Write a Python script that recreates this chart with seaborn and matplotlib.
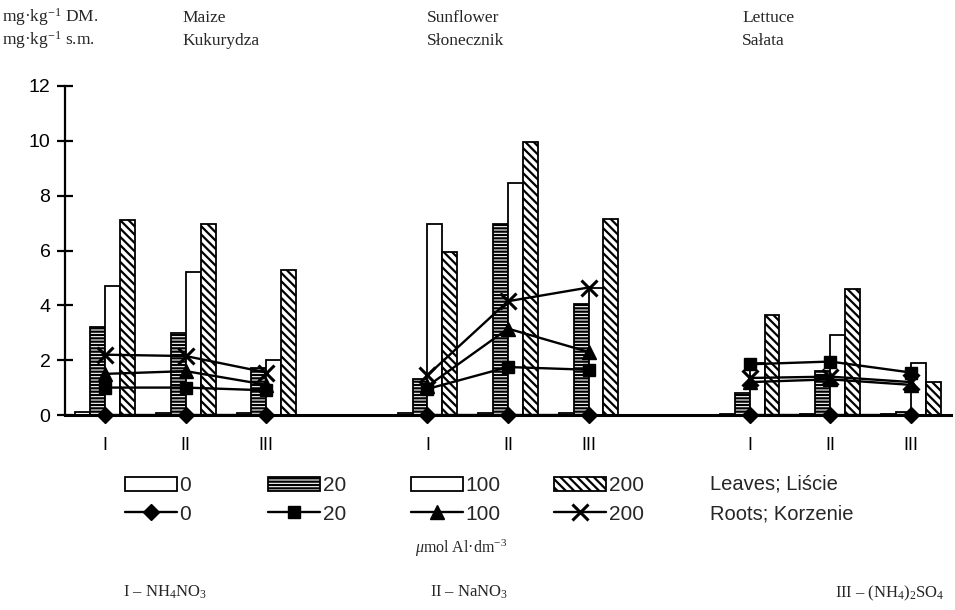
import numpy as np
import pandas as pd
import matplotlib
matplotlib.use("Agg")
import matplotlib.pyplot as plt
import seaborn as sns
from matplotlib.patches import Patch
from matplotlib.lines import Line2D

# ---------------- data ----------------
plants = ["Maize", "Sunflower", "Lettuce"]
plant_names = ["Maize\nKukurydza", "Sunflower\nSłonecznik", "Lettuce\nSałata"]
treatments = ["I", "II", "III"]
levels = ["0", "20", "100", "200"]

# order: Maize I, II, III; Sunflower I, II, III; Lettuce I, II, III
leaf_0 = [0.10, 0.06, 0.06, 0.06, 0.06, 0.06, 0.05, 0.05, 0.05]
leaf_20 = [3.20, 3.00, 1.70, 1.30, 6.95, 4.05, 0.80, 1.60, 0.10]
leaf_100 = [4.70, 5.20, 2.00, 6.95, 8.45, 4.65, 1.90, 2.90, 1.90]
leaf_200 = [7.10, 6.95, 5.30, 5.95, 9.95, 7.15, 3.65, 4.60, 1.20]

root_0 = [0.00, 0.00, 0.00, 0.00, 0.00, 0.00, 0.00, 0.00, 0.00]
root_20 = [1.00, 1.00, 0.90, 0.95, 1.75, 1.65, 1.85, 1.95, 1.55]
root_100 = [1.50, 1.60, 1.10, 1.05, 3.15, 2.30, 1.20, 1.30, 1.10]
root_200 = [2.20, 2.15, 1.55, 1.45, 4.15, 4.65, 1.35, 1.40, 1.20]

leaf_series = {"0": leaf_0, "20": leaf_20, "100": leaf_100, "200": leaf_200}
root_series = {"0": root_0, "20": root_20, "100": root_100, "200": root_200}

y_ticks = [0, 2, 4, 6, 8, 10, 12]
fert_labels = ["I – NH$_4$NO$_3$", "II – NaNO$_3$", "III – (NH$_4$)$_2$SO$_4$"]

# ---------------- build tables ----------------
slots = []
for i, p in enumerate(plants):
    slots += [f"{p}-{t}" for t in treatments]
    if i < len(plants) - 1:
        slots.append(f"gap{i}")
slot_labels = [s.split("-")[1] if "-" in s else "" for s in slots]

keys = [f"{p}-{t}" for p in plants for t in treatments]
leaf_rows, root_rows = [], []
for lvl in levels:
    for k, key in enumerate(keys):
        leaf_rows.append({"slot": key, "level": lvl, "value": leaf_series[lvl][k]})
        root_rows.append({"slot": key, "pos": slots.index(key), "plant": key.split("-")[0],
                          "level": lvl, "value": root_series[lvl][k]})
leaves = pd.DataFrame(leaf_rows)
roots = pd.DataFrame(root_rows)

# ---------------- style ----------------
sns.set_theme(style="white")
plt.rcParams["font.family"] = ["Liberation Sans", "DejaVu Sans"]
plt.rcParams["mathtext.fontset"] = "custom"
plt.rcParams["mathtext.rm"] = "Liberation Serif"
plt.rcParams["mathtext.it"] = "Liberation Serif:italic"
plt.rcParams["hatch.linewidth"] = 1.6
plt.rcParams["hatch.color"] = "black"

SERIF = ["Liberation Serif", "DejaVu Serif"]
SANS = ["Liberation Sans", "DejaVu Sans"]

bar_hatch = {"0": None, "20": "-----", "100": None, "200": "\\\\\\\\"}
markers = {"0": "D", "20": "s", "100": "^", "200": "x"}
msize = {"0": 8, "20": 9, "100": 10, "200": 11}

fig = plt.figure(figsize=(9.55, 6.1), dpi=100)
ax = fig.add_axes([65 / 955, 195 / 610, 886 / 955, 329 / 610])

sns.barplot(data=leaves, x="slot", y="value", hue="level", order=slots,
            hue_order=levels, palette=["white"] * 4, saturation=1,
            width=0.74, edgecolor="black", linewidth=1.3, errorbar=None,
            legend=False, ax=ax)
for cont, lvl in zip(ax.containers, levels):
    for bar in cont:
        bar.set_facecolor("white")
        bar.set_edgecolor("black")
        if bar_hatch[lvl]:
            bar.set_hatch(bar_hatch[lvl])

for lvl in levels:
    sub = roots[roots["level"] == lvl]
    sns.lineplot(data=sub, x="pos", y="value", units="plant", estimator=None,
                 color="black", linewidth=1.7, marker=markers[lvl],
                 markersize=msize[lvl], markeredgewidth=2.2 if lvl == "200" else 1,
                 markeredgecolor="black", markerfacecolor="black",
                 legend=False, ax=ax, clip_on=False, zorder=4)

ax.set_xlim(-0.5, len(slots) - 0.5)
ax.set_ylim(0, 12)
ax.set_xlabel("")
ax.set_ylabel("")
ax.set_xticks(range(len(slots)))
ax.set_xticklabels(slot_labels)
ax.set_xticks(np.arange(-0.5, len(slots)), minor=True)
ax.set_yticks(y_ticks)
ax.set_yticklabels([str(v) for v in y_ticks])
ax.tick_params(axis="x", which="major", length=0, pad=16, labelsize=13)
ax.tick_params(axis="x", which="minor", direction="inout", length=11,
               width=1.6, color="black")
ax.tick_params(axis="y", direction="inout", length=11, width=1.6,
               labelsize=14, pad=5, color="black", left=True)
for s in ["top", "right"]:
    ax.spines[s].set_visible(False)
ax.spines["left"].set_linewidth(1.6)
ax.spines["bottom"].set_linewidth(2.2)
ax.spines["left"].set_color("black")
ax.spines["bottom"].set_color("black")
for lab in ax.get_xticklabels() + ax.get_yticklabels():
    lab.set_color("black")

# ---------------- header texts ----------------
HS = 12.5
fig.text(2 / 955, 1 - 22 / 610, "mg·kg$^{-1}$ DM.", family=SERIF, fontsize=HS,
         va="baseline")
fig.text(2 / 955, 1 - 45 / 610, "mg·kg$^{-1}$ s.m.", family=SERIF, fontsize=HS,
         va="baseline")
for name, x in zip(plant_names, [182, 427, 742]):
    top, bottom = name.split("\n")
    fig.text(x / 955, 1 - 22 / 610, top, family=SERIF, fontsize=HS, va="baseline")
    fig.text(x / 955, 1 - 45 / 610, bottom, family=SERIF, fontsize=HS, va="baseline")

# ---------------- legend ----------------
for i, lvl in enumerate(levels):
    h_bar = Patch(facecolor="white", edgecolor="black", linewidth=1.3,
                  hatch=bar_hatch[lvl])
    h_line = Line2D([], [], color="black", linewidth=1.7, marker=markers[lvl],
                    markersize=msize[lvl],
                    markeredgewidth=2.2 if lvl == "200" else 1)
    fig.legend(handles=[h_bar, h_line], labels=[lvl, lvl], loc="center left",
               bbox_to_anchor=((125 + i * 143) / 955, 1 - 500 / 610),
               frameon=False, handlelength=2.5, handleheight=0.67,
               handletextpad=0.12, labelspacing=0.45, borderpad=0,
               borderaxespad=0, prop={"family": SANS, "size": 15})

fig.text(710 / 955, 1 - 484 / 610, "Leaves; Liście", family=SANS, fontsize=14.5,
         va="center")
fig.text(710 / 955, 1 - 514 / 610, "Roots; Korzenie", family=SANS, fontsize=14.5,
         va="center")
fig.text(415 / 955, 1 - 548 / 610, "$\\mu$mol Al·dm$^{-3}$", family=SERIF,
         fontsize=11.5, va="center")

for lab, x in zip(fert_labels, [123, 430, 835]):
    fig.text(x / 955, 1 - 597 / 610, lab, family=SERIF, fontsize=12,
             va="baseline")

fig.savefig("out.png", dpi=100)
